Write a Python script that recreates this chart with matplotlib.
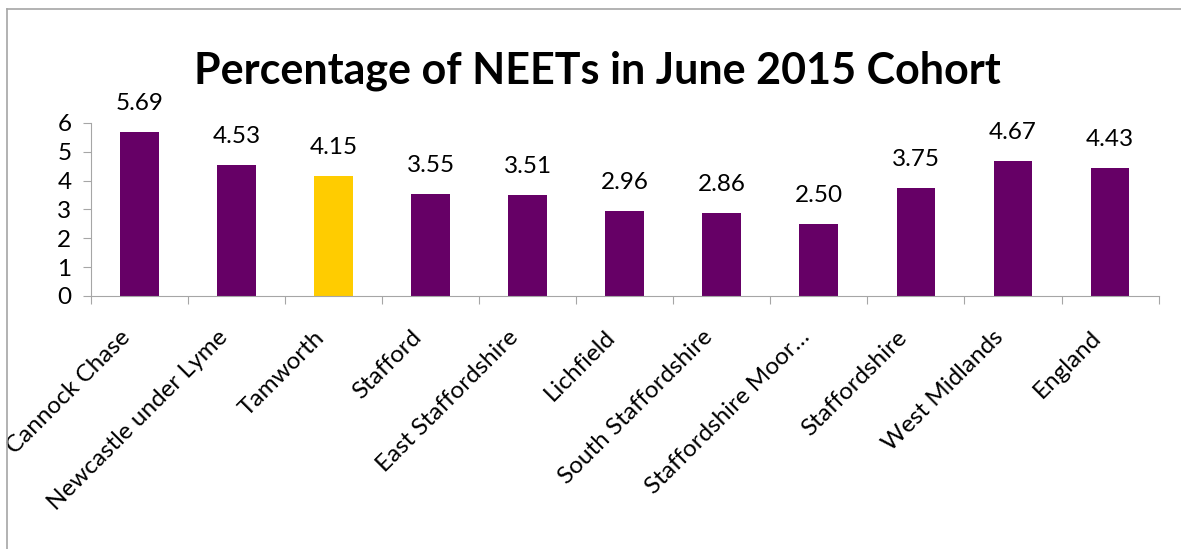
import matplotlib
matplotlib.use("Agg")
import matplotlib.pyplot as plt
from matplotlib.lines import Line2D
from matplotlib.transforms import ScaledTranslation

categories = [
    "Cannock Chase", "Newcastle under Lyme", "Tamworth", "Stafford",
    "East Staffordshire", "Lichfield", "South Staffordshire",
    "Staffordshire Moor\u2026", "Staffordshire", "West Midlands", "England",
]
values = [5.69, 4.53, 4.15, 3.55, 3.51, 2.96, 2.86, 2.50, 3.75, 4.67, 4.43]
highlight = "Tamworth"

purple = "#660066"
yellow = "#FFCC00"
grey = "#a6a6a6"

plt.rcParams["font.family"] = ["Lato", "DejaVu Sans"]

fig = plt.figure(figsize=(11.81, 5.49), dpi=100)
ax = fig.add_axes([0.077, 0.461, 0.904, 0.315])

colors = [yellow if c == highlight else purple for c in categories]
x = range(len(categories))
bars = ax.bar(x, values, width=0.4, color=colors)

for rect, v in zip(bars, values):
    ax.annotate(f"{v:.2f}", (rect.get_x() + rect.get_width() / 2, v),
                xytext=(0, 13), textcoords="offset points",
                ha="center", va="bottom", fontsize=17.5)

ax.set_xlim(-0.5, len(categories) - 0.5)
ax.set_ylim(0, 6)
ax.set_yticks(range(7))
ax.tick_params(axis="y", labelsize=17.5, color=grey, length=6, pad=8)

# category boundaries get the tick marks, centres get the labels
ax.set_xticks([i - 0.5 for i in range(len(categories) + 1)], minor=False)
ax.set_xticklabels([])
ax.tick_params(axis="x", color=grey, length=6, direction="out")
ax.set_xticks(list(x), minor=True)
ax.set_xticklabels(categories, minor=True, rotation=45, ha="right",
                   rotation_mode="anchor", fontsize=17.5)
ax.tick_params(axis="x", which="minor", length=0, pad=22)
shift = ScaledTranslation(-20 / 100, 0, fig.dpi_scale_trans)
for lbl in ax.get_xticklabels(minor=True):
    lbl.set_transform(lbl.get_transform() + shift)

for side in ("top", "right"):
    ax.spines[side].set_visible(False)
for side in ("left", "bottom"):
    ax.spines[side].set_color(grey)

fig.text(0.506, 0.872, "Percentage of NEETs in June 2015 Cohort",
         ha="center", va="center", fontsize=31, fontweight="bold")

# outer chart border (cut off at right and bottom in the original)
bx = 6.5 / 1181
by = 1 - 8.5 / 549
fig.add_artist(Line2D([bx, bx], [0, by], transform=fig.transFigure, color=grey, lw=1.2))
fig.add_artist(Line2D([bx, 1], [by, by], transform=fig.transFigure, color=grey, lw=1.2))

fig.savefig("out.png", dpi=100)
